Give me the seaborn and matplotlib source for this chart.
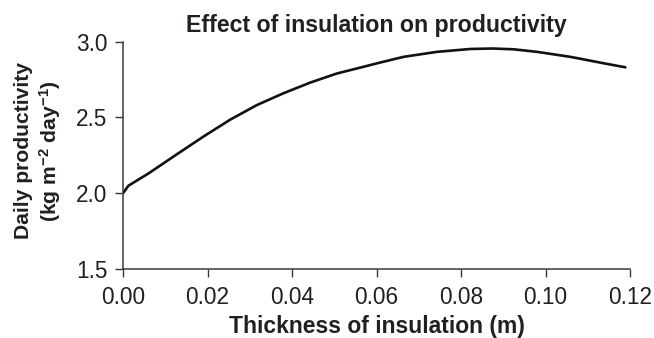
import matplotlib
matplotlib.use("Agg")
import matplotlib.pyplot as plt
import seaborn as sns
import pandas as pd

thickness = [0.0, 0.0013, 0.006, 0.0128, 0.0191, 0.0254, 0.0317, 0.038, 0.0443,
             0.0506, 0.057, 0.0605, 0.0664, 0.0743, 0.0822, 0.0875, 0.0924, 0.098,
             0.1059, 0.1137, 0.1189]
productivity = [2.00, 2.05, 2.13, 2.258, 2.375, 2.486, 2.582, 2.66, 2.73,
                2.79, 2.835, 2.86, 2.90, 2.933, 2.952, 2.955, 2.95, 2.933,
                2.90, 2.858, 2.831]

x_ticks = [0.00, 0.02, 0.04, 0.06, 0.08, 0.10, 0.12]
y_ticks = [1.5, 2.0, 2.5, 3.0]

df = pd.DataFrame({"thickness": thickness, "productivity": productivity})

sns.set_style("ticks")
plt.rcParams["font.family"] = ["Liberation Sans", "DejaVu Sans"]
plt.rcParams["mathtext.fontset"] = "custom"
plt.rcParams["mathtext.rm"] = "Liberation Sans:bold"
plt.rcParams["mathtext.it"] = "Liberation Sans:bold"
plt.rcParams["mathtext.bf"] = "Liberation Sans:bold"
plt.rcParams["mathtext.default"] = "rm"

text_color = "#231f20"
fig = plt.figure(figsize=(6.54, 3.38), dpi=100)
ax = fig.add_axes([123 / 654, 1 - 269 / 338, 507 / 654, (269 - 41.7) / 338])

sns.lineplot(data=df, x="thickness", y="productivity", ax=ax, color="#111111",
             linewidth=1.9)

ax.set_xlim(0, 0.12)
ax.set_ylim(1.5, 3.0)
ax.set_xticks(x_ticks)
ax.set_xticklabels([f"{v:.2f}" for v in x_ticks])
ax.set_yticks(y_ticks)
ax.set_yticklabels([f"{v:.1f}" for v in y_ticks])
sns.despine(ax=ax)
for s in ["left", "bottom"]:
    ax.spines[s].set_color("#3a3a3a")
    ax.spines[s].set_linewidth(1.1)
ax.tick_params(axis="both", length=6, width=1.0, color="#3a3a3a",
               labelsize=16.3, labelcolor=text_color)
ax.tick_params(axis="y", pad=5)
ax.tick_params(axis="x", pad=6)

ax.set_title("Effect of insulation on productivity", fontsize=16.7,
             fontweight="bold", color=text_color, pad=7)
ax.set_xlabel("Thickness of insulation (m)", fontsize=16.5, fontweight="bold",
              color=text_color, labelpad=4.8)
ax.set_ylabel("Daily productivity\n(kg m$^{-2}$ day$^{-1}$)", fontsize=15.2,
              fontweight="bold", color=text_color, linespacing=1.2)
ax.yaxis.set_label_coords(-0.118, 0.52)

fig.savefig("out.png", dpi=100)
